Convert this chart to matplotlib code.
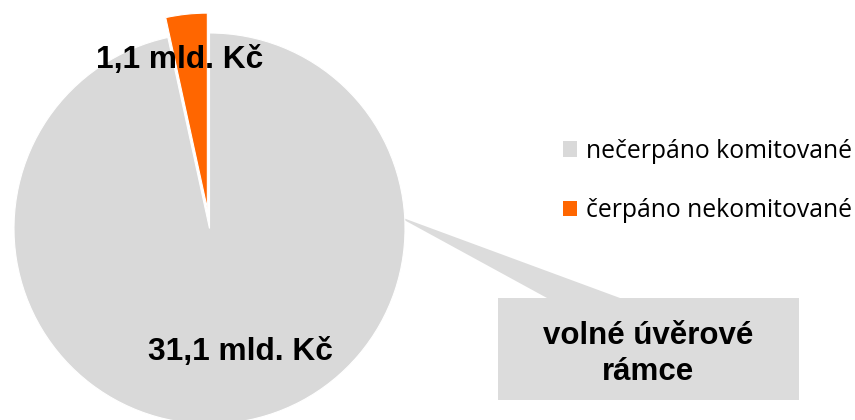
import matplotlib.pyplot as plt
from matplotlib.patches import Rectangle, Polygon, Patch

# -----------------------------
# Data
# -----------------------------
labels = ["čerpáno nekomitované", "nečerpáno komitované"]
values = [1.1, 31.1]
value_labels = ["1,1 mld. Kč", "31,1 mld. Kč"]
colors = ["#ff6600", "#d9d9d9"]

W, H = 855, 420

fig = plt.figure(figsize=(W / 100, H / 100), dpi=100)
ax = fig.add_axes([0, 0, 1, 1])

# callout behind the pie
ax.add_patch(Polygon([(395, H - 215), (547, H - 298), (620, H - 298)],
                     closed=True, facecolor="#dcdcdc", edgecolor="none", zorder=0))
ax.add_patch(Rectangle((498, H - 400), 301, 102, facecolor="#dcdcdc",
                       edgecolor="none", zorder=0))
ax.text(648, H - 354, "volné úvěrové\nrámce", ha="center", va="center",
        fontsize=22.5, fontweight="bold", family="Liberation Sans",
        linespacing=1.25, zorder=3)

# -----------------------------
# Pie (explode is in data units here = pixels)
# -----------------------------
wedges, _ = ax.pie(values, colors=colors, startangle=90, counterclock=True,
                   explode=[20, 0], center=(209.5, H - 228.5), radius=195.5,
                   frame=True, wedgeprops={"edgecolor": "white", "linewidth": 0.8})
for w in wedges:
    w.set_zorder(2)

ax.set_xlim(0, W)
ax.set_ylim(0, H)
ax.set_aspect("equal")
ax.axis("off")

ax.text(180, H - 60, value_labels[0], ha="center", va="center",
        fontsize=22.8, fontweight="bold", family="Liberation Sans", zorder=3)
ax.text(240, H - 352, value_labels[1], ha="center", va="center",
        fontsize=22.8, fontweight="bold", family="Liberation Sans", zorder=3)

# -----------------------------
# Legend
# -----------------------------
handles = [Patch(facecolor=colors[1], label=labels[1]),
           Patch(facecolor=colors[0], label=labels[0])]
ax.legend(handles=handles, loc="center left", bbox_to_anchor=(563 / W, (H - 181) / H),
          frameon=False, prop={"family": "Open Sans", "size": 17.8},
          handlelength=0.58, handleheight=0.58, handletextpad=0.35,
          labelspacing=1.4, borderaxespad=0, borderpad=0)

fig.savefig("out.png", dpi=100)
